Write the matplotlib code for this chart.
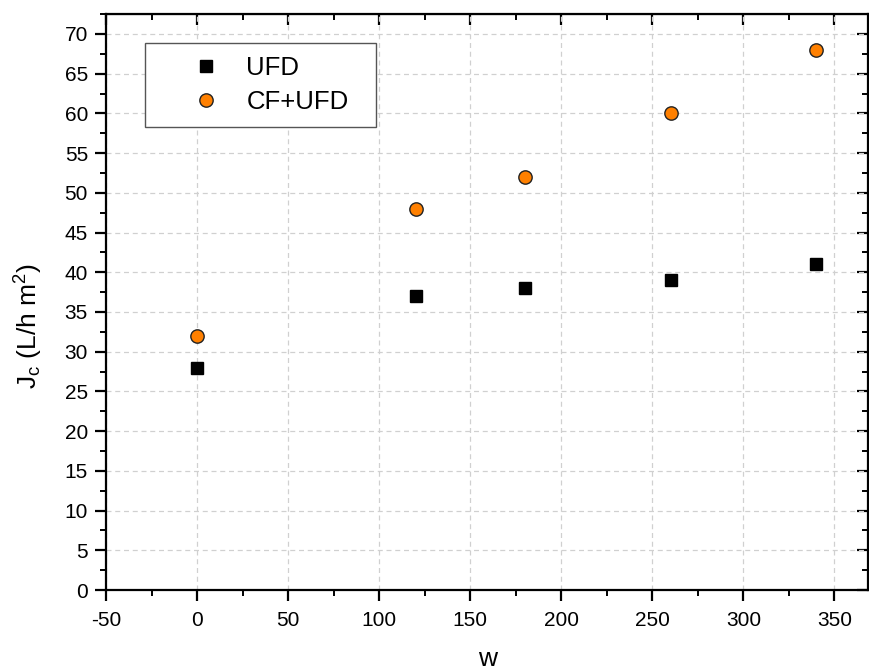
import numpy as np
import matplotlib
matplotlib.use('Agg')
import matplotlib.pyplot as plt
from matplotlib.ticker import MultipleLocator

plt.rcParams['font.family'] = ['Liberation Sans', 'DejaVu Sans']
plt.rcParams['axes.unicode_minus'] = False
plt.rcParams['mathtext.default'] = 'regular'

w = [0, 120, 180, 260, 340]
ufd = [28, 37, 38, 39, 41]
cf_ufd = [32, 48, 52, 60, 68]

fig = plt.figure(figsize=(8.69, 6.72), dpi=100)
ax = fig.add_axes([0.122, 0.122, 0.877, 0.857])

ax.plot(w, ufd, 's', color='black', markersize=8.6, label='UFD', zorder=3)
ax.plot(w, cf_ufd, 'o', color='#FF8000', markeredgecolor='#222222',
        markeredgewidth=1.0, markersize=9.6, label='CF+UFD', zorder=3)

ax.set_xlim(-50, 368.5)
ax.set_ylim(0, 72.5)
ax.xaxis.set_major_locator(MultipleLocator(50))
ax.xaxis.set_minor_locator(MultipleLocator(25))
ax.yaxis.set_major_locator(MultipleLocator(5))
ax.yaxis.set_minor_locator(MultipleLocator(2.5))

ax.grid(True, which='major', linestyle=(0, (4, 3)), color='#d0d0d0', linewidth=0.9)
ax.set_axisbelow(True)

for s in ax.spines.values():
    s.set_linewidth(1.6)

ax.tick_params(which='major', direction='out', length=8, width=1.6, labelsize=15,
               top=False, right=False)
ax.tick_params(axis='x', which='major', pad=7)
ax.tick_params(axis='y', which='major', pad=5)
ax.tick_params(which='minor', direction='out', length=4.5, width=1.4, top=False, right=False)

# inward ticks on top and right
ax2 = ax.secondary_xaxis('top')
ax2.xaxis.set_major_locator(MultipleLocator(50))
ax2.xaxis.set_minor_locator(MultipleLocator(25))
ax2.tick_params(which='major', direction='in', length=8, width=1.6, labeltop=False)
ax2.tick_params(which='minor', direction='in', length=4.5, width=1.4)
ax3 = ax.secondary_yaxis('right')
ax3.yaxis.set_major_locator(MultipleLocator(5))
ax3.yaxis.set_minor_locator(MultipleLocator(2.5))
ax3.tick_params(which='major', direction='in', length=8, width=1.6, labelright=False)
ax3.tick_params(which='minor', direction='in', length=4.5, width=1.4)

ax.set_xlabel('w', fontsize=19, labelpad=12)
ax.set_ylabel(r'J$_{c}$ (L/h m$^{2}$)', fontsize=19)
ax.yaxis.set_label_coords(-0.08, 0.458)

leg = ax.legend(loc='upper left', bbox_to_anchor=(0.0512, 0.9497, 0.303, 0.0),
                mode='expand', fontsize=18.5,
                frameon=True, fancybox=False, edgecolor='#555555', framealpha=1,
                borderpad=0.5, handletextpad=-0.33, borderaxespad=0, labelspacing=0.38,
                handlelength=3.77)
leg.get_frame().set_linewidth(1.0)

fig.savefig('out.png', dpi=100)
